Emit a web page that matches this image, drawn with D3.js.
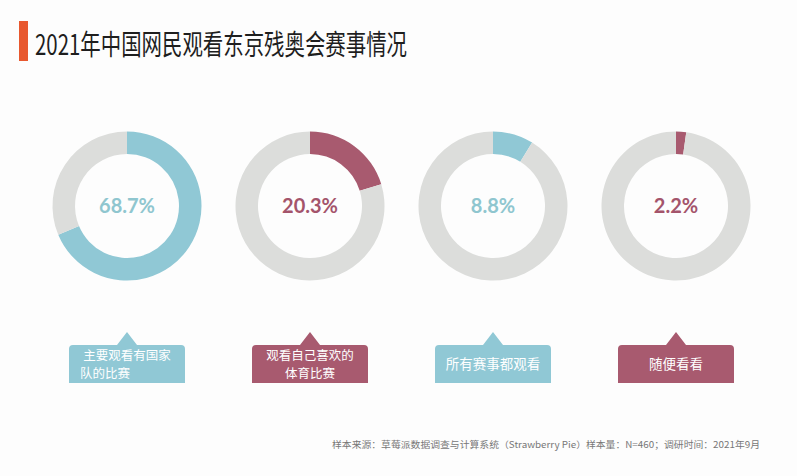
<!DOCTYPE html>
<html><head><meta charset="utf-8">
<script src="https://cdn.jsdelivr.net/npm/d3@7"></script>
<style>
html,body{margin:0;padding:0;background:#fdfdfd;}
svg{display:block;}
</style></head>
<body>
<script>
const title = "2021年中国网民观看东京残奥会赛事情况";
const categories = ["主要观看有国家队的比赛", "观看自己喜欢的体育比赛", "所有赛事都观看", "随便看看"];
const labelLines = [["主要观看有国家", "队的比赛"], ["观看自己喜欢的", "体育比赛"], ["所有赛事都观看"], ["随便看看"]];
const values = [68.7, 20.3, 8.8, 2.2];
const source = "样本来源：草莓派数据调查与计算系统（Strawberry Pie）样本量：N=460；调研时间：2021年9月";

const W = 797, H = 476;
const blue = "#90c8d5", maroon = "#a85a6f", grey = "#dcdddb";
const textBlue = "#8fc6cf", textMaroon = "#a4546b";

const svg = d3.select("body").append("svg").attr("width", W).attr("height", H);
svg.append("rect").attr("width", W).attr("height", H).attr("fill", "#fdfdfd");

// title
svg.append("rect").attr("x", 19).attr("y", 21).attr("width", 9).attr("height", 40).attr("fill", "#e8582f");
svg.append("text").attr("x", 35).attr("y", 55)
  .attr("font-family", "'Noto Sans CJK SC', sans-serif").attr("font-size", 28)
  .attr("fill", "#1e1e1e").attr("textLength", 372).attr("lengthAdjust", "spacingAndGlyphs")
  .text(title);

const x = d3.scalePoint().domain(categories).range([127, 676]);
const cy = 206;
const outerR = 74.5, innerR = 52;
const arc = d3.arc().innerRadius(innerR).outerRadius(outerR);
const pie = d3.pie().sort(null).value(d => d);

const g = svg.selectAll("g.donut").data(categories).join("g")
  .attr("class", "donut")
  .attr("transform", d => `translate(${x(d)},${cy})`);

g.each(function(cat, i) {
  const gg = d3.select(this);
  const v = values[i];
  const col = i % 2 === 0 ? blue : maroon;
  const tcol = i % 2 === 0 ? textBlue : textMaroon;
  const arcs = pie([v, 100 - v]);
  gg.selectAll("path").data(arcs).join("path")
    .attr("d", arc)
    .attr("fill", (d, j) => j === 0 ? col : grey);
  gg.append("text").attr("y", 7).attr("text-anchor", "middle")
    .attr("font-family", "Lato, 'Open Sans', sans-serif").attr("font-weight", 700)
    .attr("font-size", 20).attr("fill", tcol)
    .text(d3.format(".1f")(v) + "%");

  // callout
  const bw = 116, bh = 38, by = 345 - cy, r = 4, aw = 10, ah = 13;
  const bx = -bw / 2;
  const p = d3.path();
  p.moveTo(bx, by + bh);
  p.lineTo(bx, by + r);
  p.quadraticCurveTo(bx, by, bx + r, by);
  p.lineTo(-aw, by);
  p.lineTo(0, by - ah);
  p.lineTo(aw, by);
  p.lineTo(bx + bw - r, by);
  p.quadraticCurveTo(bx + bw, by, bx + bw, by + r);
  p.lineTo(bx + bw, by + bh);
  p.closePath();
  gg.append("path").attr("d", p.toString()).attr("fill", col);

  const lines = labelLines[i];
  if (lines.length === 2) {
    lines.forEach((ln, k) => {
      const left = (i === 0 && k === 1);
      gg.append("text")
        .attr("font-family", "'Noto Sans CJK SC', sans-serif").attr("font-size", 12.5)
        .attr("fill", "#fff")
        .attr("x", left ? -47 : 0)
        .attr("text-anchor", left ? "start" : "middle")
        .attr("y", by + 14.5 + k * 18)
        .text(ln);
    });
  } else {
    gg.append("text")
      .attr("font-family", "'Noto Sans CJK SC', sans-serif").attr("font-size", 13.5)
      .attr("fill", "#fff")
      .attr("x", 0).attr("text-anchor", "middle")
      .attr("y", by + 24).text(lines[0]);
  }
});

svg.append("text").attr("x", 332).attr("y", 448)
  .attr("font-family", "'Noto Sans CJK SC', sans-serif").attr("font-size", 9)
  .attr("fill", "#777").attr("textLength", 428).attr("lengthAdjust", "spacingAndGlyphs")
  .text(source);
</script>
</body></html>
